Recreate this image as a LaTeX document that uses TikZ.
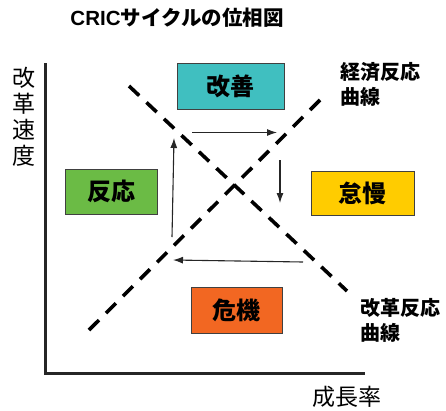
\documentclass[tikz,border=0pt]{standalone}
\usepackage{fontspec}
\setmainfont{Liberation Sans}
\newfontfamily\jp{Noto Sans CJK JP}
\usetikzlibrary{arrows.meta}
\definecolor{cteal}{HTML}{40BFC0}
\definecolor{cgreen}{HTML}{6BBB45}
\definecolor{cyellow}{HTML}{FFCC00}
\definecolor{corange}{HTML}{F26722}
\begin{document}
\begin{tikzpicture}[x=1pt,y=-1pt,
  box/.style={draw=black!75, line width=0.9pt, inner sep=0pt,
    font=\jp\bfseries\fontsize{24}{24}\selectfont},
  curve/.style={line width=3.6pt, dash pattern=on 14pt off 10pt},
  flow/.style={-{Latex[length=10pt,width=7pt]}, line width=1.1pt, black!85},
  axis/.style={line width=3pt, black!85},
  axlabel/.style={font=\jp\fontsize{23}{26}\selectfont, inner sep=0pt},
  curvelabel/.style={font=\jp\bfseries\fontsize{20}{25}\selectfont, inner sep=0pt, align=left}]
\useasboundingbox (0,0) rectangle (446,410);
% title
\node[font=\bfseries\fontsize{20.5}{20.5}\selectfont, inner sep=0pt] (title) at (177,18) {CRIC{\jp サイクルの位相図}};
% axes
\coordinate (ytop) at (45,63);
\coordinate (orig) at (45,373.5);
\coordinate (xend) at (365,373.5);
\draw[axis] (ytop) -- (orig) -- (xend);
\node[axlabel, align=center] (ylab) at (24,117) {改\\革\\速\\度};
\node[axlabel] (xlab) at (347,397) {成長率};
% curves
\coordinate (c1s) at (129,86);
\coordinate (c1e) at (347,291);
\coordinate (c2s) at (89,330);
\coordinate (c2e) at (320,100);
\draw[curve] (c1s) -- (c1e);
\draw[curve] (c2s) -- (c2e);
% boxes
\node[box, fill=cteal, minimum width=107pt, minimum height=46pt] (kaizen) at (230.5,86) {改善};
\node[box, fill=cgreen, minimum width=92pt, minimum height=45pt] (hanno) at (111,191.5) {反応};
\node[box, fill=cyellow, minimum width=103pt, minimum height=44pt] (taiman) at (362.5,193) {怠慢};
\node[box, fill=corange, minimum width=91pt, minimum height=46pt] (kiki) at (236.5,310) {危機};
% curve labels
\node[curvelabel, anchor=west] (l1) at (340,84.5) {経済反応\\曲線};
\node[curvelabel, anchor=west] (l2) at (360,320) {改革反応\\曲線};
% cycle arrows
\coordinate (a1s) at (192,132.5);
\coordinate (a1e) at (277,132.5);
\coordinate (a2s) at (280,160);
\coordinate (a2e) at (280,203);
\coordinate (a3s) at (303,262);
\coordinate (a3e) at (173,260);
\coordinate (a4s) at (172,237);
\coordinate (a4e) at (174,138);
\draw[flow] (a1s) -- (a1e);
\draw[flow] (a2s) -- (a2e);
\draw[flow] (a3s) -- (a3e);
\draw[flow] (a4s) -- (a4e);
\end{tikzpicture}
\end{document}
